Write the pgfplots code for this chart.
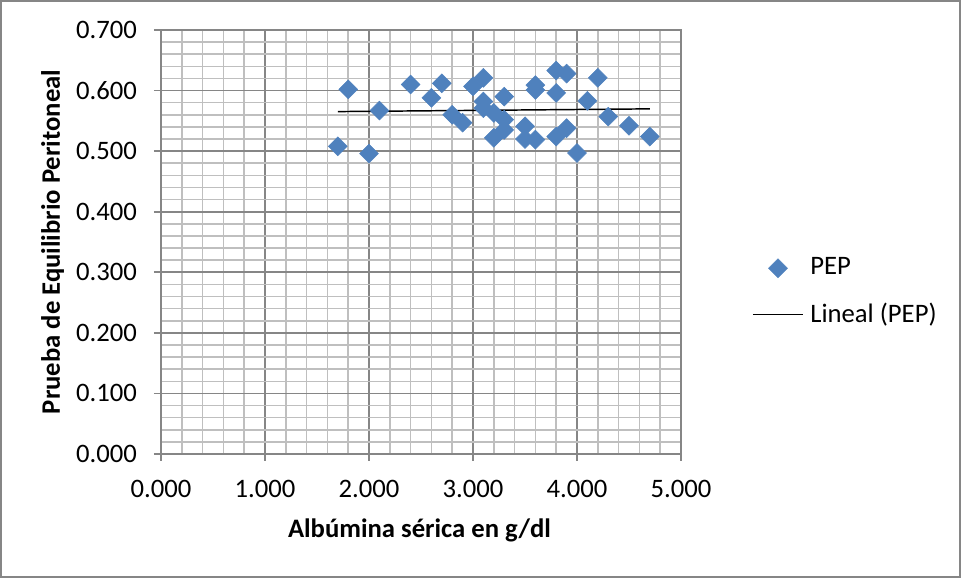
\documentclass[border=0pt]{standalone}
\usepackage{pgfplots}
\pgfplotsset{compat=1.18}
\usepackage{fontspec}
\setmainfont{Carlito}
\definecolor{pepblue}{RGB}{79,129,189}
\definecolor{majgrid}{RGB}{134,134,134}
\definecolor{mingrid}{RGB}{191,191,191}
\begin{document}
\fontsize{20}{24}\selectfont
\begin{tikzpicture}
\useasboundingbox (0,0) rectangle (720.75pt,433.5pt);
\draw[color=majgrid, line width=1.1pt] (0.75pt,0.75pt) rectangle (720pt,432.75pt);
\begin{axis}[
  at={(120.75pt,93pt)}, anchor=south west,
  scale only axis, width=390pt, height=318pt,
  xmin=0, xmax=5, ymin=0, ymax=0.7,
  xtick={0,1,...,5}, ytick={0,0.1,...,0.7},
  minor x tick num=4, minor y tick num=4,
  grid=both,
  major grid style={color=majgrid, line width=1.2pt},
  minor grid style={color=mingrid, line width=1.2pt},
  axis line style={color=majgrid, line width=1.2pt},
  tick style={color=majgrid, line width=1.2pt},
  tick align=outside, major tick length=5.25pt, minor tick length=0pt,
  xtick pos=bottom, ytick pos=left,
  /pgf/number format/assume math mode=true,
  xticklabel style={yshift=-7.5pt, /pgf/number format/.cd, fixed, fixed zerofill, precision=3, 1000 sep={}},
  yticklabel style={xshift=-6pt, /pgf/number format/.cd, fixed, fixed zerofill, precision=3, 1000 sep={}},
  xlabel={\bfseries Albúmina sérica en g/dl},
  ylabel={\bfseries Prueba de Equilibrio Peritoneal},
  xlabel style={at={(axis description cs:0.497,-0.1958)}, anchor=base},
  ylabel style={at={(axis description cs:-0.1943,0.5)}, anchor=base, rotate=0},
  legend style={at={(axis description cs:1.1365,0.382)}, anchor=west, draw=none, fill=none, inner sep=0pt, row sep=14pt, column sep=3pt, cells={anchor=west}, font=\fontsize{20}{24}\selectfont},
  legend cell align=left,
  clip=false,
]
\addplot[only marks, mark=square*, mark size=5pt, mark options={rotate=45, fill=pepblue, draw=pepblue},
  legend image code/.code={\draw[mark=square*, mark size=5pt, mark options={rotate=45, fill=pepblue, draw=pepblue}] plot coordinates {(18.75pt,0pt)};}]
coordinates {
(1.7,0.508) (1.8,0.602) (2.0,0.496) (2.1,0.567) (2.4,0.610) (2.6,0.588)
(2.7,0.612) (2.8,0.560) (2.9,0.547) (3.0,0.607) (3.1,0.621) (3.1,0.582)
(3.1,0.571) (3.2,0.563) (3.3,0.552) (3.2,0.522) (3.3,0.535) (3.3,0.590)
(3.5,0.541) (3.5,0.520) (3.6,0.519) (3.6,0.609) (3.6,0.601) (3.8,0.596)
(3.8,0.633) (3.9,0.628) (3.8,0.524) (3.9,0.538) (4.0,0.497) (4.2,0.621)
(4.1,0.583) (4.3,0.557) (4.5,0.542) (4.7,0.524)
};
\addlegendentry{PEP}
\addplot[black, line width=1.1pt, legend image code/.code={\draw[black, line width=1.1pt] (0pt,0pt) -- (37.5pt,0pt);}]
coordinates {(1.7,0.5653) (4.7,0.5698)};
\addlegendentry{Lineal (PEP)}
\end{axis}
\end{tikzpicture}
\end{document}
